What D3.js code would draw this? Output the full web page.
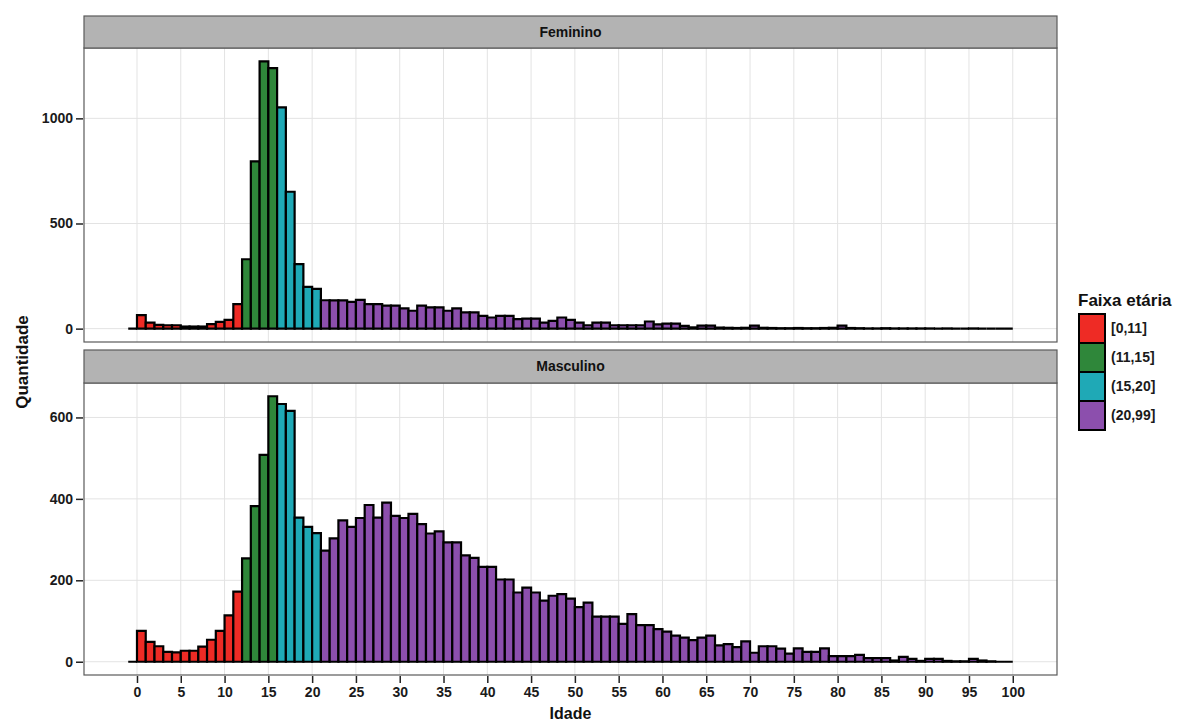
<!DOCTYPE html>
<html>
<head>
<meta charset="utf-8">
<script src="https://cdnjs.cloudflare.com/ajax/libs/d3/7.8.5/d3.min.js"></script>
<style>
  body { margin: 0; background: #fff; }
  svg { font-family: "Liberation Sans", Arial, sans-serif; }
</style>
</head>
<body>
<svg width="1192" height="722"></svg>
<script>
// ages (bins of 1 year, from -1 to 99)
var ages = d3.range(-1, 100);

// counts per age, women
var feminino = [0,
  64, 29, 18, 16, 16, 10, 10, 10, 21, 32,
  42, 117, 330, 795, 1271, 1239, 1052, 651, 307, 199,
  189, 135, 134, 134, 127, 137, 117, 117, 109, 109,
  96, 85, 109, 101, 101, 85, 96, 77, 77, 61,
  53, 61, 61, 45, 48, 48, 29, 37, 53, 42,
  29, 16, 29, 29, 16, 16, 16, 16, 34, 20,
  24, 24, 13, 6, 14, 14, 5, 4, 3, 4,
  14, 4, 3, 2, 2, 3, 2, 2, 3, 4,
  14, 3, 2, 1, 1, 2, 1, 1, 1, 1,
  1, 0, 1, 0, 0, 1, 0, 0, 0, 0];

// counts per age, men
var masculino = [0,
  76, 49, 38, 24, 23, 27, 27, 37, 54, 76,
  114, 172, 254, 382, 508, 652, 633, 616, 354, 331,
  316, 273, 303, 347, 331, 353, 385, 354, 391, 358,
  353, 363, 338, 315, 320, 293, 293, 261, 255, 233,
  233, 202, 202, 170, 182, 170, 150, 162, 166, 155,
  134, 145, 111, 111, 111, 93, 117, 90, 90, 80,
  74, 64, 59, 53, 59, 64, 40, 43, 36, 50,
  22, 38, 38, 32, 20, 33, 24, 24, 33, 14,
  14, 14, 17, 9, 9, 9, 3, 12, 7, 2,
  7, 7, 2, 1, 1, 7, 3, 1, 0, 0];

var faixas = ["[0,11]", "(11,15]", "(15,20]", "(20,99]"];
var faixaCores = ["#ee2b25", "#2f873a", "#1fa9b6", "#8c4fad"];
var xTicks = d3.range(0, 101, 5);

var svg = d3.select("svg");

var left = 84, right = 1057;

// which age band an age belongs to
function faixaDe(a) {
  if (a <= 11) return faixas[0];
  if (a <= 15) return faixas[1];
  if (a <= 20) return faixas[2];
  return faixas[3];
}

var color = d3.scaleOrdinal().domain(faixas).range(faixaCores);

// x scale with ggplot-like 5% padding on the bin range [-1, 100]
var x = d3.scaleLinear()
  .domain([-1 - 5.05, 100 + 5.05])
  .range([left, right]);

var paineis = [
  { nome: "Feminino", valores: feminino, stripTop: 16, top: 48, bottom: 342, ticks: [0, 500, 1000] },
  { nome: "Masculino", valores: masculino, stripTop: 350, top: 383, bottom: 675, ticks: [0, 200, 400, 600] }
];

paineis.forEach(function(p) {
  var maxV = d3.max(p.valores);
  var y = d3.scaleLinear()
    .domain([-0.05 * maxV, 1.05 * maxV])
    .range([p.bottom, p.top]);

  var g = svg.append("g");

  // panel background
  g.append("rect")
    .attr("x", left).attr("y", p.top)
    .attr("width", right - left).attr("height", p.bottom - p.top)
    .attr("fill", "#fff");

  // grid lines
  g.selectAll(".vgrid")
    .data(xTicks)
    .enter().append("line")
    .attr("x1", function(d) { return x(d); })
    .attr("x2", function(d) { return x(d); })
    .attr("y1", p.top).attr("y2", p.bottom)
    .attr("stroke", "#e3e3e3").attr("stroke-width", 1);

  g.selectAll(".hgrid")
    .data(p.ticks)
    .enter().append("line")
    .attr("x1", left).attr("x2", right)
    .attr("y1", function(d) { return y(d); })
    .attr("y2", function(d) { return y(d); })
    .attr("stroke", "#e3e3e3").attr("stroke-width", 1);

  // bars drawn as paths so that empty bins still show their outline
  g.selectAll(".bar")
    .data(ages)
    .enter().append("path")
    .attr("d", function(a, i) {
      var x0 = x(a), x1 = x(a + 1), y0 = y(0), y1 = y(p.valores[i]);
      return "M" + x0 + "," + y0 + "V" + y1 + "H" + x1 + "V" + y0 + "Z";
    })
    .attr("fill", function(a) { return color(faixaDe(a)); })
    .attr("stroke", "#000")
    .attr("stroke-width", 2.2)
    .attr("stroke-linejoin", "miter");

  // panel border
  g.append("rect")
    .attr("x", left).attr("y", p.top)
    .attr("width", right - left).attr("height", p.bottom - p.top)
    .attr("fill", "none").attr("stroke", "#5a5a5a").attr("stroke-width", 1.2);

  // strip
  g.append("rect")
    .attr("x", left).attr("y", p.stripTop)
    .attr("width", right - left).attr("height", p.top - p.stripTop)
    .attr("fill", "#b3b3b3").attr("stroke", "#5a5a5a").attr("stroke-width", 1.2);

  g.append("text")
    .attr("x", (left + right) / 2)
    .attr("y", (p.stripTop + p.top) / 2)
    .attr("dy", "0.35em")
    .attr("text-anchor", "middle")
    .attr("font-size", 14)
    .attr("font-weight", "bold")
    .attr("fill", "#111")
    .text(p.nome);

  // y axis
  var yAxis = d3.axisLeft(y)
    .tickValues(p.ticks)
    .tickSize(7)
    .tickPadding(3)
    .tickFormat(d3.format("d"));

  var ya = g.append("g")
    .attr("transform", "translate(" + (left - 1) + ",0)")
    .call(yAxis);
  ya.select(".domain").remove();
  ya.selectAll("line").attr("stroke", "#222").attr("stroke-width", 1.5);
  ya.selectAll("text")
    .attr("font-size", 14)
    .attr("font-weight", "bold")
    .attr("font-family", "Liberation Sans, Arial, sans-serif")
    .attr("fill", "#1a1a1a");
});

// x axis under the bottom panel
var xAxis = d3.axisBottom(x)
  .tickValues(xTicks)
  .tickSize(7)
  .tickPadding(4);

var xa = svg.append("g")
  .attr("transform", "translate(0," + 676 + ")")
  .call(xAxis);
xa.select(".domain").remove();
xa.selectAll("line").attr("stroke", "#222").attr("stroke-width", 1.5);
xa.selectAll("text")
  .attr("font-size", 14)
  .attr("font-weight", "bold")
  .attr("font-family", "Liberation Sans, Arial, sans-serif")
  .attr("fill", "#1a1a1a");

// axis titles
svg.append("text")
  .attr("x", (left + right) / 2)
  .attr("y", 719)
  .attr("text-anchor", "middle")
  .attr("font-size", 16)
  .attr("font-weight", "bold")
  .attr("fill", "#111")
  .text("Idade");

svg.append("text")
  .attr("transform", "translate(28,362) rotate(-90)")
  .attr("text-anchor", "middle")
  .attr("font-size", 17)
  .attr("font-weight", "bold")
  .attr("fill", "#111")
  .text("Quantidade");

// legend
var legend = svg.append("g").attr("transform", "translate(1078,0)");

legend.append("text")
  .attr("x", 0).attr("y", 306)
  .attr("font-size", 17)
  .attr("font-weight", "bold")
  .attr("fill", "#111")
  .text("Faixa etária");

var keyH = 29;
var keys = legend.selectAll(".key")
  .data(faixas)
  .enter().append("g")
  .attr("transform", function(d, i) { return "translate(0," + (314 + i * keyH) + ")"; });

keys.append("rect")
  .attr("x", 1).attr("y", 0)
  .attr("width", 26).attr("height", keyH)
  .attr("fill", function(d) { return color(d); })
  .attr("stroke", "#000").attr("stroke-width", 2);

keys.append("text")
  .attr("x", 33).attr("y", keyH / 2)
  .attr("dy", "0.35em")
  .attr("font-size", 14)
  .attr("font-weight", "bold")
  .attr("fill", "#1a1a1a")
  .text(function(d) { return d; });
</script>
</body>
</html>
